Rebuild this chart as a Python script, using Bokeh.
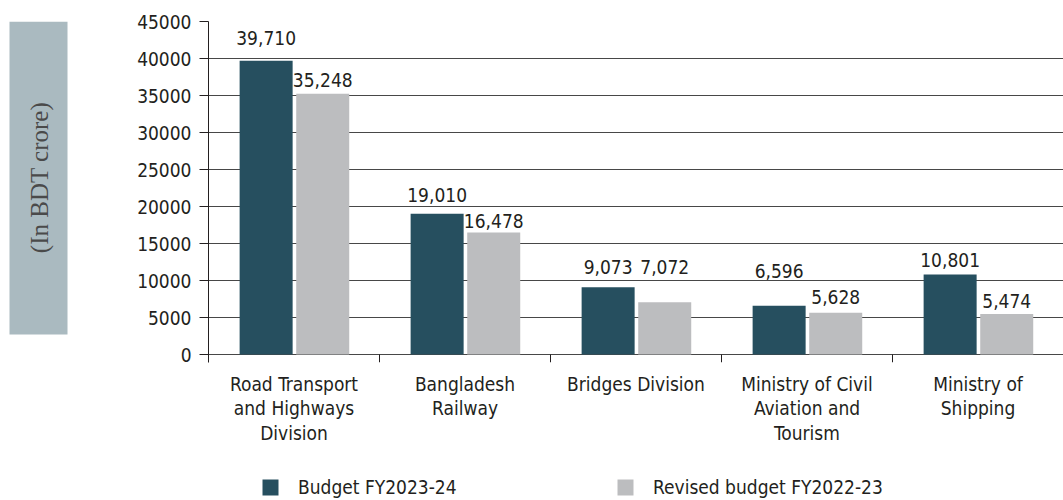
import math
from bokeh.plotting import figure
from bokeh.models import (ColumnDataSource, Legend, LegendItem, FactorRange,
                          FixedTicker, Range1d)
from bokeh.transform import dodge
from bokeh.layouts import row, column
from bokeh.embed import file_html
from bokeh.resources import INLINE
from bokeh.core.properties import value

# ---------------- data ----------------
categories = [
    "Road Transport\nand Highways\nDivision",
    "Bangladesh\nRailway",
    "Bridges Division",
    "Ministry of Civil\nAviation and\nTourism",
    "Ministry of\nShipping",
]
budget_fy2023_24 = [39710, 19010, 9073, 6596, 10801]
revised_fy2022_23 = [35248, 16478, 7072, 5628, 5474]
series_names = ["Budget FY2023-24", "Revised budget FY2022-23"]
y_ticks = [0, 5000, 10000, 15000, 20000, 25000, 30000, 35000, 40000, 45000]
unit_label = "(In BDT crore)"

# ---------------- style ----------------
FONT = "DejaVu Sans Condensed"
SERIF = "Liberation Serif"
TXT = "#231f20"
DARK = "#264f5f"
GREY = "#bcbdbf"
BOX = "#aabac0"
GRID = "#474747"
FS = "19px"
# pixel lift of each value label above its bar (as laid out in the original)
budget_lift_px = [23, 19, 20, 35, 15]
revised_lift_px = [14, 12, 35, 16, 13]

H = 470       # chart row height
LH = 30       # legend strip height
TOP = 21      # frame top
BOT = 108     # space below frame
y_top = y_ticks[-1]
y_start = -1080  # axis line runs a little below zero

src = ColumnDataSource(dict(
    cat=categories,
    budget=budget_fy2023_24,
    revised=revised_fy2022_23,
    budget_lbl=[f"{v:,}" for v in budget_fy2023_24],
    revised_lbl=[f"{v:,}" for v in revised_fy2022_23],
    b_off=[-v for v in budget_lift_px],
    r_off=[-v for v in revised_lift_px],
    zero=[0] * len(categories),
    bottom=[y_start] * len(categories),
))

# ---------------- side box with unit label ----------------
side = figure(width=70, height=H, x_range=Range1d(0, 70), y_range=Range1d(H - BOT, TOP),
              output_backend="svg", toolbar_location=None,
              min_border_left=0, min_border_right=0, min_border_top=TOP,
              min_border_bottom=BOT)
side.axis.visible = False
side.grid.visible = False
side.outline_line_color = None
side.quad(left=[9], right=[67], top=[TOP], bottom=[334], fill_color=BOX, line_color=None)
side.text(x=[39], y=[177], text=[unit_label], angle=math.pi / 2,
          text_font=value(SERIF), text_font_size="25px", text_color="#4a4a4a",
          text_align="center", text_baseline="middle")

# ---------------- main chart ----------------
p = figure(width=993, height=H, x_range=FactorRange(*categories, range_padding=0),
           y_range=Range1d(y_start, y_top), output_backend="svg", toolbar_location=None,
           min_border_left=138, min_border_right=0, min_border_top=TOP,
           min_border_bottom=BOT)
p.outline_line_color = None
p.xgrid.visible = False
p.ygrid.ticker = FixedTicker(ticks=y_ticks)
p.ygrid.grid_line_color = GRID
p.ygrid.grid_line_width = 1

p.yaxis.ticker = FixedTicker(ticks=y_ticks)
p.yaxis.major_tick_out = 9
p.yaxis.major_tick_in = 0
p.yaxis.minor_tick_line_color = None
p.yaxis.axis_line_color = TXT
p.yaxis.major_tick_line_color = TXT
p.yaxis.major_label_standoff = 8
p.yaxis.major_label_text_font = FONT
p.yaxis.major_label_text_font_size = FS
p.yaxis.major_label_text_color = TXT

p.xaxis.axis_line_color = None
p.xaxis.major_tick_line_color = None
p.xaxis.major_label_standoff = 4
p.xaxis.major_label_text_font = FONT
p.xaxis.major_label_text_font_size = FS
p.xaxis.major_label_text_color = TXT
p.xaxis.major_label_text_line_height = 1.13

W = 0.31
r1 = p.vbar(x=dodge("cat", -0.163, range=p.x_range), top="budget", width=W,
            source=src, fill_color=DARK, line_color=None)
r2 = p.vbar(x=dodge("cat", 0.168, range=p.x_range), top="revised", width=W,
            source=src, fill_color=GREY, line_color=None)

p.text(x=dodge("cat", -0.163, range=p.x_range), y="budget", text="budget_lbl",
       y_offset="b_off", source=src, text_font=value(FONT), text_font_size=FS,
       text_color=TXT, text_align="center", text_baseline="alphabetic")
p.text(x=dodge("cat", 0.168, range=p.x_range), y="revised", text="revised_lbl",
       y_offset="r_off", source=src, text_font=value(FONT), text_font_size=FS,
       text_color=TXT, text_align="center", text_baseline="alphabetic")

# category boundary ticks below the baseline
p.segment(x0=dodge("cat", 0.5, range=p.x_range), x1=dodge("cat", 0.5, range=p.x_range),
          y0="zero", y1="bottom", source=src, line_color=TXT, line_width=1)

# ---------------- legend strip ----------------
leg = figure(width=1063, height=LH, x_range=Range1d(0, 1), y_range=Range1d(0, 1),
             output_backend="svg", toolbar_location=None, min_border=0,
             min_border_left=0, min_border_right=0, min_border_top=0, min_border_bottom=0)
leg.axis.visible = False
leg.grid.visible = False
leg.outline_line_color = None
# zero-height swatch carriers (nothing visible is drawn by them)
e1 = leg.vbar(x=[0.5], top=[0], bottom=[0], width=0, fill_color=DARK, line_color=None)
e2 = leg.vbar(x=[0.5], top=[0], bottom=[0], width=0, fill_color=GREY, line_color=None)
for name, rend, xloc in [(series_names[0], e1, 260), (series_names[1], e2, 615)]:
    lg = Legend(items=[LegendItem(label=name, renderers=[rend])], location=(xloc, 2),
                orientation="horizontal", padding=0, margin=0, spacing=0,
                glyph_width=20, glyph_height=20, label_standoff=18, label_height=20,
                label_text_font=FONT, label_text_font_size=FS, label_text_color=TXT,
                border_line_color=None, background_fill_alpha=0)
    leg.add_layout(lg, "center")

layout = column(row(side, p), leg)
open("out.html", "w").write(file_html(layout, INLINE))
